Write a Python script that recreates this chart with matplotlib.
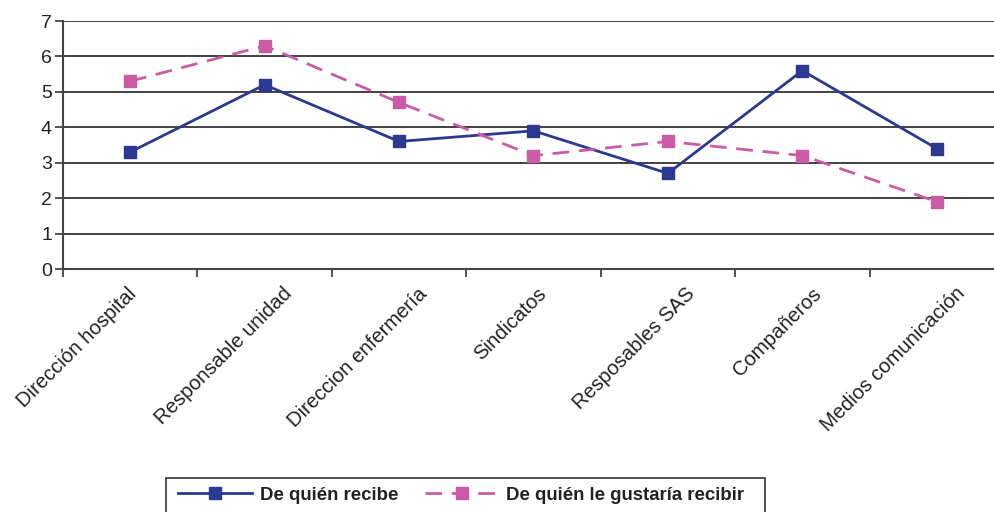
import matplotlib.pyplot as plt
from matplotlib.patches import Rectangle
from matplotlib.transforms import ScaledTranslation
from matplotlib.ticker import FixedLocator, NullFormatter

plt.rcParams['font.family'] = ['Liberation Sans', 'DejaVu Sans']

categories = ["Dirección hospital", "Responsable unidad", "Direccion enfermería",
              "Sindicatos", "Resposables SAS", "Compañeros", "Medios comunicación"]
recibe = [3.3, 5.2, 3.6, 3.9, 2.7, 5.6, 3.4]
gustaria = [5.3, 6.3, 4.7, 3.2, 3.6, 3.2, 1.9]
y_ticks = [0, 1, 2, 3, 4, 5, 6, 7]

# horizontal nudge (pixels) for each rotated category label
label_shift_px = [-3, 18, 18, 3, 17, 9, 18]

blue = '#2b3990'
pink = '#cc5aa5'
DPI = 100

fig = plt.figure(figsize=(9.95, 5.12), dpi=DPI)
W, H = 995, 512
ax = fig.add_axes([63 / W, 1 - 269 / H, 941 / W, 248 / H])

x = list(range(len(categories)))
ax.plot(x, recibe, color=blue, lw=2, marker='s', ms=9, mec=blue, mfc=blue,
        label='De quién recibe', zorder=3)
ax.plot(x, gustaria, color=pink, lw=2, ls=(0, (6, 3.5)), marker='s', ms=9,
        mec=pink, mfc=pink, label='De quién le gustaría recibir', zorder=3)

ax.set_xlim(-0.5, len(categories) - 0.5)
ax.set_ylim(0, 7)
ax.set_yticks(y_ticks)
ax.set_yticklabels([str(v) for v in y_ticks], fontsize=14, color='#222222')
ax.yaxis.grid(True, color='#333333', lw=1.3)
ax.set_axisbelow(True)

# category labels: rotated text hanging below each category position
ax.set_xticks(x)
ax.set_xticklabels([])
ax.tick_params(axis='x', which='major', length=0)
for i, (cat, dx) in enumerate(zip(categories, label_shift_px)):
    off = ScaledTranslation(dx / DPI, -15 / DPI, fig.dpi_scale_trans)
    ax.text(i, 0, cat, transform=ax.get_xaxis_transform() + off,
            rotation=45, ha='right', va='top', rotation_mode='anchor',
            fontsize=14.6, color='#222222')

ax.xaxis.set_minor_locator(FixedLocator([i - 0.5 for i in range(len(categories) + 1)]))
ax.xaxis.set_minor_formatter(NullFormatter())
ax.tick_params(axis='x', which='minor', length=6, width=1.3, color='#444444', direction='out')
ax.tick_params(axis='y', length=6, width=1.3, color='#444444', direction='out', pad=2)

for side in ['top', 'right']:
    ax.spines[side].set_visible(False)
for side in ['left', 'bottom']:
    ax.spines[side].set_color('#444444')
    ax.spines[side].set_linewidth(1.5)

# legend box running off the bottom edge of the figure
fig.patches.append(Rectangle((166 / W, -0.05), (765 - 166) / W, 0.05 + (1 - 478 / H),
                             transform=fig.transFigure, fill=False,
                             edgecolor='#333333', lw=1.2, clip_on=False))
leg = fig.legend(loc='center left', bbox_to_anchor=(178 / W, 1 - 495 / H),
                 ncol=2, frameon=False, handlelength=4.0, columnspacing=1.45,
                 handletextpad=0.38, borderpad=0, borderaxespad=0,
                 prop={'weight': 'bold', 'size': 13.4})
for t in leg.get_texts():
    t.set_color('#222222')

fig.savefig('out.png', dpi=DPI)
